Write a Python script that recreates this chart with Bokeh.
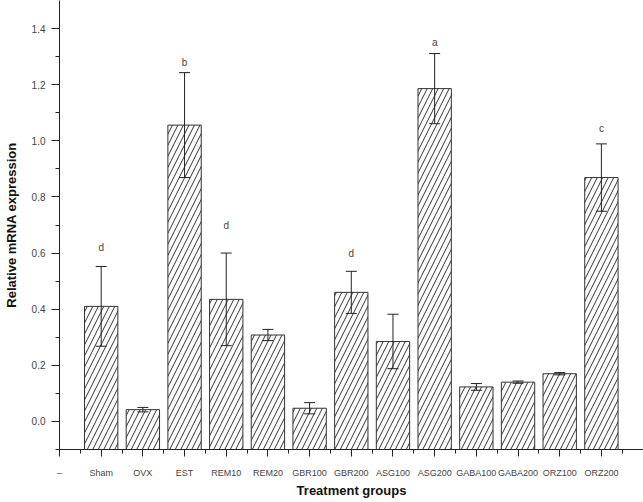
from bokeh.plotting import figure
from bokeh.models import Range1d, FixedTicker, SingleIntervalTicker, PrintfTickFormatter, Whisker, TeeHead, ColumnDataSource
from bokeh.embed import file_html
from bokeh.resources import INLINE
from bokeh.core.properties import value

# ---- data ----
groups = ["–", "Sham", "OVX", "EST", "REM10", "REM20", "GBR100", "GBR200",
          "ASG100", "ASG200", "GABA100", "GABA200", "ORZ100", "ORZ200"]
bar_groups = groups[1:]
means = [0.41, 0.042, 1.056, 0.435, 0.308, 0.047, 0.46, 0.285, 1.186, 0.123, 0.14, 0.17, 0.869]
errors = [0.142, 0.008, 0.187, 0.165, 0.02, 0.02, 0.075, 0.097, 0.125, 0.012, 0.004, 0.004, 0.12]
letter_groups = ["Sham", "EST", "REM10", "GBR200", "ASG200", "ORZ200"]
letters = ["d", "b", "d", "d", "a", "c"]
letter_y = [0.621, 1.28, 0.70, 0.60, 1.349, 1.045]

y_start, y_end = -0.1, 1.5

xs = [groups.index(g) for g in bar_groups]
src = ColumnDataSource(dict(
    x=xs, top=means,
    upper=[m + e for m, e in zip(means, errors)],
    lower=[m - e for m, e in zip(means, errors)],
))

p = figure(width=643, height=500, output_backend="svg", toolbar_location=None,
           x_range=Range1d(0, 14.01), y_range=Range1d(y_start, y_end),
           min_border_left=52, min_border_bottom=51, min_border_top=0, min_border_right=0)
p.outline_line_color = None
p.xgrid.visible = False
p.ygrid.visible = False

p.vbar(x="x", top="top", bottom=y_start, width=0.8, source=src,
       fill_color="white", line_color="#333333", line_width=1,
       hatch_pattern="/", hatch_color="#333333", hatch_scale=11, hatch_weight=1)

w = Whisker(base="x", upper="upper", lower="lower", source=src, level="annotation",
            line_color="#222222", line_width=1,
            upper_head=TeeHead(size=11, line_color="#222222", line_width=1),
            lower_head=TeeHead(size=11, line_color="#222222", line_width=1))
p.add_layout(w)

p.text(x=[groups.index(g) for g in letter_groups], y=letter_y, text=letters,
       text_align="center", text_baseline="middle", text_font_size="10px",
       text_color="#444444", text_font=value("Liberation Sans"))

# x axis
xa = p.xaxis[0]
xa.ticker = FixedTicker(ticks=list(range(len(groups))),
                        minor_ticks=[i + 0.5 for i in range(len(groups))])
xa.major_label_overrides = {i: g for i, g in enumerate(groups)}
xa.major_tick_out = 7
xa.major_tick_in = 0
xa.minor_tick_out = 4
xa.minor_tick_in = 0
xa.major_label_standoff = 11
xa.major_label_text_font = "Liberation Sans"
xa.major_label_text_font_size = "9px"
xa.major_label_text_color = "#444444"
xa.axis_label = "Treatment groups"
xa.axis_label_text_font = "Liberation Sans"
xa.axis_label_text_font_size = "13px"
xa.axis_label_text_font_style = "bold"
xa.axis_label_text_color = "#111111"
xa.axis_label_standoff = 2
xa.axis_line_color = "#222222"
xa.major_tick_line_color = "#222222"
xa.minor_tick_line_color = "#222222"

# y axis
ya = p.yaxis[0]
ya.ticker = SingleIntervalTicker(interval=0.2, num_minor_ticks=2)
ya.formatter = PrintfTickFormatter(format="%.1f")
ya.major_tick_out = 8
ya.major_tick_in = 0
ya.minor_tick_out = 4
ya.minor_tick_in = 0
ya.major_label_standoff = 6
ya.major_label_text_font = "Liberation Sans"
ya.major_label_text_font_size = "10px"
ya.major_label_text_color = "#444444"
ya.axis_label = "Relative mRNA expression"
ya.axis_label_text_font = "Liberation Sans"
ya.axis_label_text_font_size = "13px"
ya.axis_label_text_font_style = "bold"
ya.axis_label_text_color = "#111111"
ya.axis_label_standoff = 10
ya.axis_line_color = "#222222"
ya.major_tick_line_color = "#222222"
ya.minor_tick_line_color = "#222222"

open("out.html", "w").write(file_html(p, INLINE))
